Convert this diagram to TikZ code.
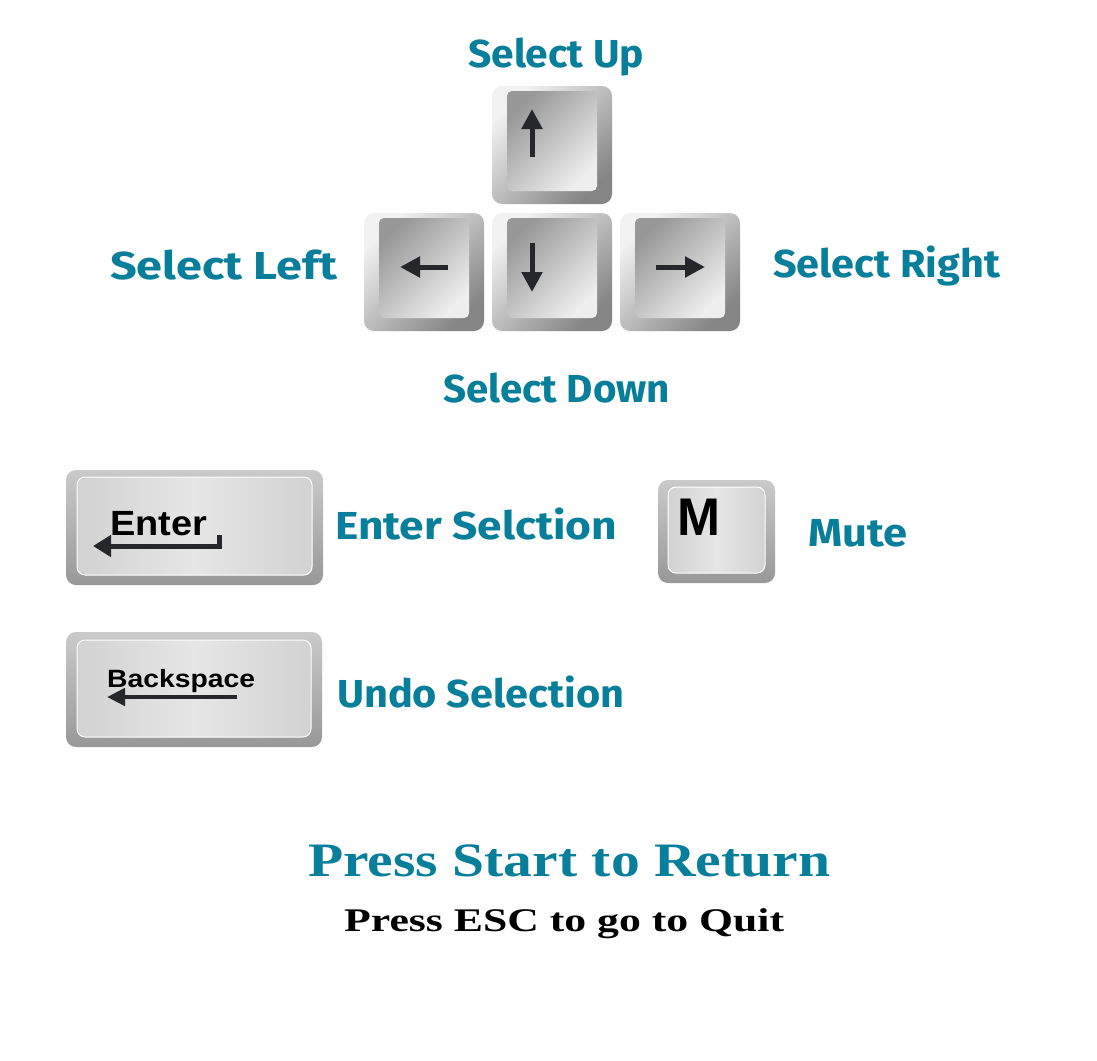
\documentclass[tikz,border=0pt]{standalone}
\usepackage{fontspec}
\usepackage{graphicx}
\usetikzlibrary{arrows.meta}
\newfontfamily\handfont{Fira Sans}
\newfontfamily\keyfont{Liberation Sans}
\newfontfamily\pixfont{Liberation Serif}
\definecolor{teal}{HTML}{087F9A}
\definecolor{arrowdark}{HTML}{25272A}
\definecolor{faceA}{HTML}{989898}
\definecolor{faceB}{HTML}{EEEEEE}
\definecolor{rimA}{HTML}{F2F2F2}
\definecolor{rimB}{HTML}{858585}
\definecolor{wrimA}{HTML}{CACACA}
\definecolor{wrimB}{HTML}{989898}
\definecolor{wfaceA}{HTML}{D2D2D2}
\definecolor{wfaceB}{HTML}{E6E6E6}
\newcommand{\fitw}[2]{\resizebox{#1}{\height}{#2}}
\tikzset{
  arrowrim/.style={rounded corners=10pt, shading=axis, top color=rimA, bottom color=rimB, shading angle=45},
  arrowface/.style={rounded corners=5pt, shading=axis, top color=faceA, bottom color=faceB, shading angle=45},
  widerim/.style={rounded corners=10pt, top color=wrimA, bottom color=wrimB},
  wideface/.style={rounded corners=8pt, left color=wfaceA, right color=wfaceA, middle color=wfaceB, draw=white, line width=1pt},
  keyarrow/.style={draw=arrowdark, line width=5pt, -{Triangle[length=20pt,width=20pt]}},
  handlbl/.style={anchor=base west, inner sep=0pt, text=teal, font=\handfont\bfseries\fontsize{39}{39}\selectfont},
  keylbl/.style={anchor=base west, inner sep=0pt, text=black},
}
\newcommand{\arrowkey}[2]{%
  \path[arrowrim] (#1,#2) rectangle ++(120,118);
  \path[arrowface] (#1+15,#2+5) rectangle ++(90,100);
}
\begin{document}
\begin{tikzpicture}[x=1pt,y=-1pt]
\useasboundingbox[fill=white] (0,0) rectangle (1097,1060);

% arrow keys
\arrowkey{492}{86}
\arrowkey{364}{213}
\arrowkey{492}{213}
\arrowkey{620}{213}

\coordinate (upA) at (532,157);   \coordinate (upB) at (532,109);
\coordinate (dnA) at (532,243);   \coordinate (dnB) at (532,292);
\coordinate (ltA) at (448,267);   \coordinate (ltB) at (400,267);
\coordinate (rtA) at (656,267);   \coordinate (rtB) at (705,267);
\draw[keyarrow] (upA) -- (upB);
\draw[keyarrow] (dnA) -- (dnB);
\draw[keyarrow] (ltA) -- (ltB);
\draw[keyarrow] (rtA) -- (rtB);

% Enter key
\path[widerim] (66,470) rectangle (323,585);
\path[wideface] (77,477) rectangle (312,575);
\node[keylbl] (enterlbl) at (110,535) {\fitw{97pt}{\keyfont\bfseries\fontsize{35}{35}\selectfont Enter}};
\coordinate (enA) at (219,535);
\coordinate (enB) at (219,546);
\coordinate (enC) at (93,546);
\draw[draw=arrowdark, line width=5pt, -{Triangle[length=18pt,width=21pt]}] (enA) -- (enB) -- (enC);

% Backspace key
\path[widerim] (66,632) rectangle (322,747);
\path[wideface] (77,640) rectangle (311,737);
\node[keylbl] (bslbl) at (107,687) {\fitw{148pt}{\keyfont\bfseries\fontsize{25}{25}\selectfont Backspace}};
\coordinate (bsA) at (237,697);
\coordinate (bsB) at (107,697);
\draw[draw=arrowdark, line width=4.5pt, -{Triangle[length=18pt,width=17pt]}] (bsA) -- (bsB);

% M key
\path[widerim] (658,480) rectangle (775,583);
\path[wideface] (668,487) rectangle (765,573);
\node[keylbl] (mlbl) at (677,535) {\fitw{43pt}{\keyfont\bfseries\fontsize{53}{53}\selectfont M}};

% handwritten labels
\node[handlbl] (selup) at (468,67) {\fitw{176pt}{Select Up}};
\node[handlbl] (selleft) at (110,279) {\fitw{227pt}{Select Left}};
\node[handlbl] (selright) at (773,277) {\fitw{227pt}{Select Right}};
\node[handlbl] (seldown) at (443,402) {\fitw{227pt}{Select Down}};
\node[handlbl] (entersel) at (335,539) {\fitw{282pt}{Enter Selction}};
\node[handlbl] (mute) at (808,546) {\fitw{99pt}{Mute}};
\node[handlbl] (undosel) at (337,707) {\fitw{287pt}{Undo Selection}};

% bottom texts
\node[anchor=base west, inner sep=0pt, text=teal] (ret) at (308,876)
  {\fitw{522pt}{\pixfont\bfseries\fontsize{48}{48}\selectfont Press Start to Return}};
\node[anchor=base west, inner sep=0pt, text=black] (quit) at (344,931)
  {\fitw{440pt}{\pixfont\bfseries\fontsize{33}{33}\selectfont Press ESC to go to Quit}};
\end{tikzpicture}
\end{document}
